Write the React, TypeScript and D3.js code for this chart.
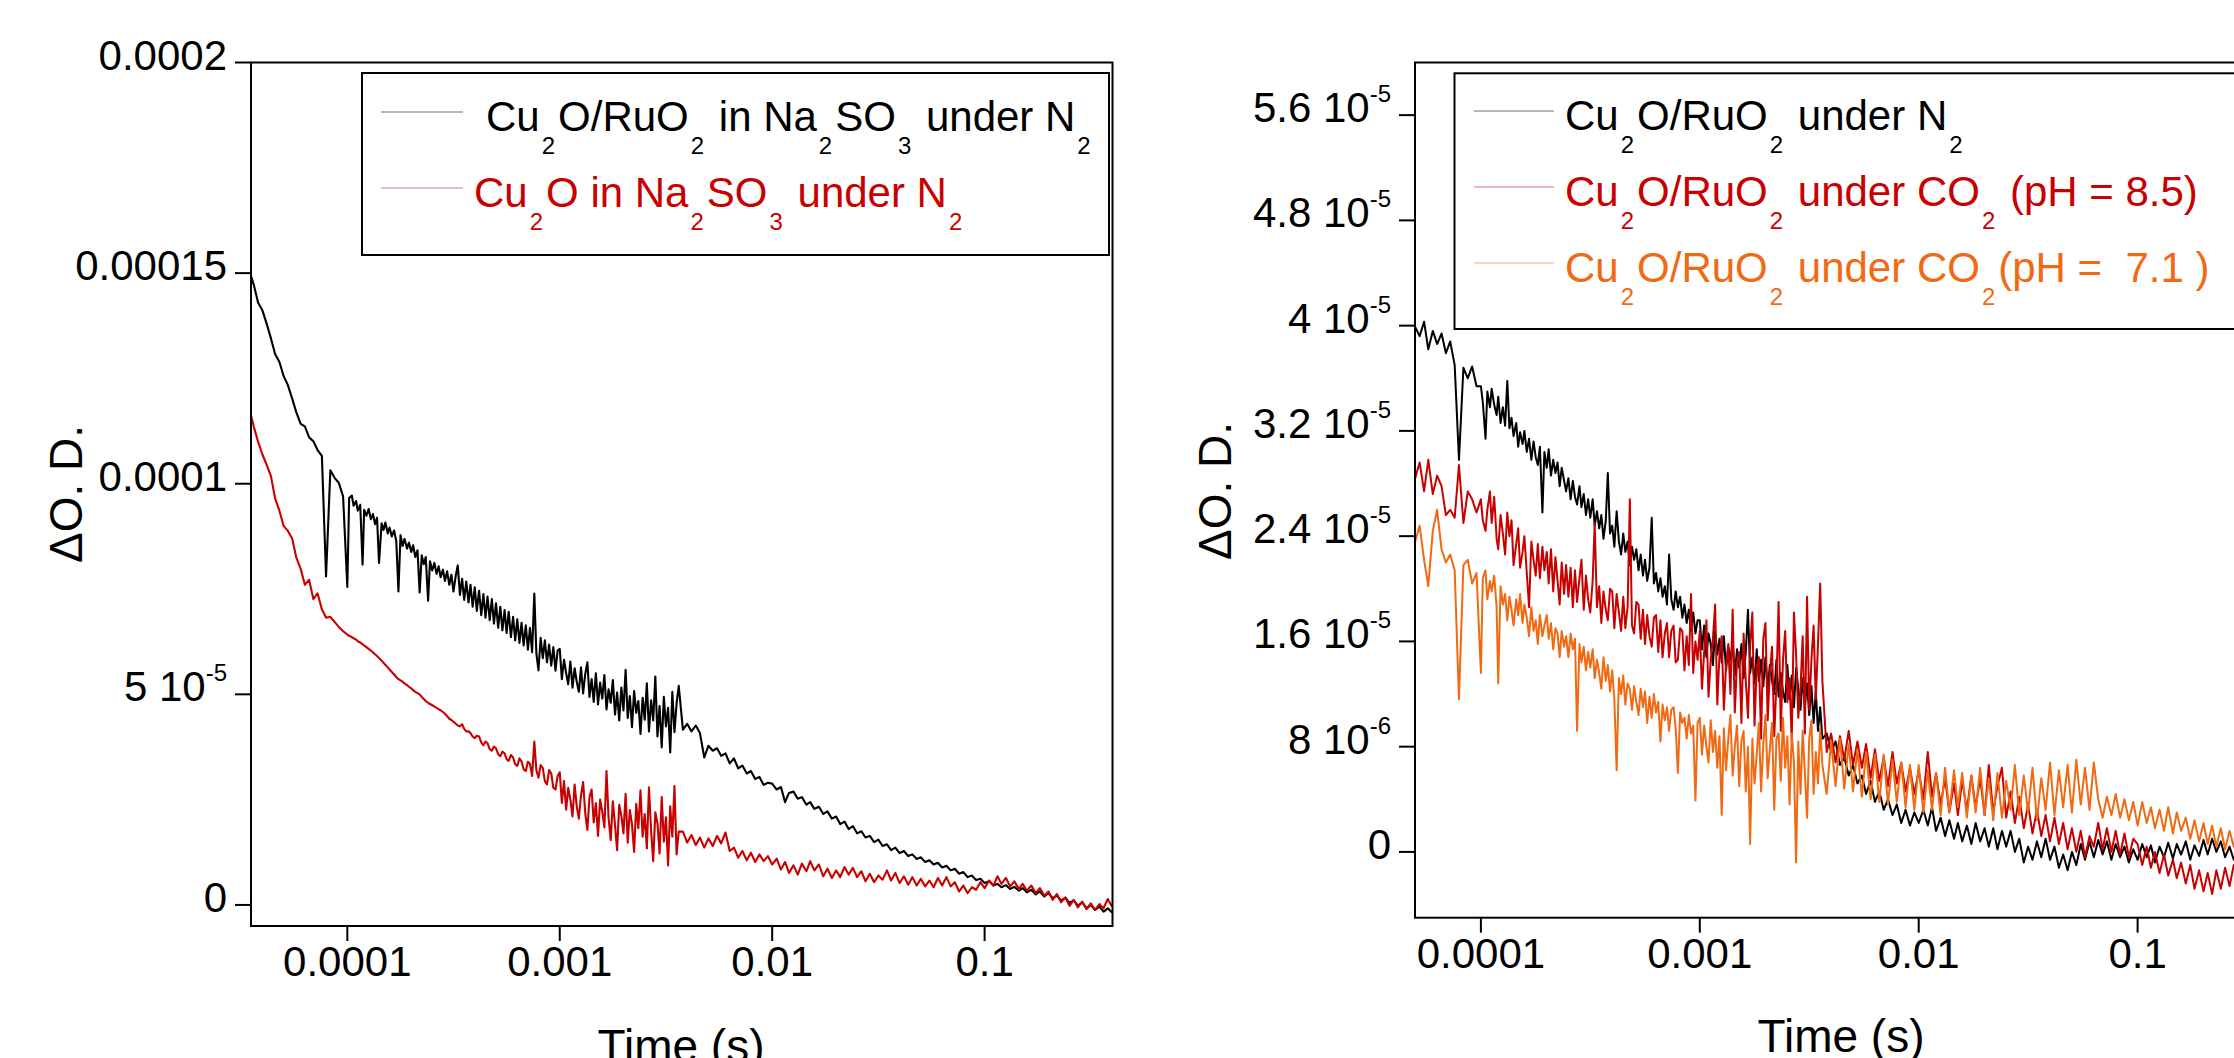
import React from 'react';
import * as d3 from 'd3';

const FONT = '"Liberation Sans", Arial, Helvetica, sans-serif';
const W = 2234;
const H = 1058;

const BLACK = '#000000';
const RED = '#c80000';
const ORANGE = '#f06a14';

// sampling times in microseconds, shared by both panels
// (denser between 0.1 and 3.6 ms where the traces are noisiest;
// the right panel starts at 50.1 us, i.e. index 8)
const timeUs = [
  // 35 - 100 us
  34.7, 36.3, 38.0, 39.8, 41.7, 43.7, 45.7, 47.9, 50.1, 52.5,
  55.0, 57.5, 60.3, 63.1, 66.1, 69.2, 72.4, 75.9, 79.4, 83.2,
  87.1, 91.2, 95.5,
  // 0.1 - 1 ms
  100, 102, 105, 107, 110, 112, 115, 118, 120, 123,
  126, 129, 132, 135, 138, 141, 145, 148, 151, 155,
  158, 162, 166, 170, 174, 178, 182, 186, 191, 195,
  200, 204, 209, 214, 219, 224, 229, 234, 240, 245,
  251, 257, 263, 269, 275, 282, 288, 295, 302, 309,
  316, 324, 331, 339, 347, 355, 363, 372, 380, 389,
  398, 407, 417, 427, 437, 447, 457, 468, 479, 490,
  501, 513, 525, 537, 550, 562, 575, 589, 603, 617,
  631, 646, 661, 676, 692, 708, 724, 741, 759, 776,
  794, 813, 832, 851, 871, 891, 912, 933, 955, 977,
  // 1 - 3.6 ms
  1000, 1023, 1047, 1072, 1096, 1122, 1148, 1175, 1202, 1230,
  1259, 1288, 1318, 1349, 1380, 1413, 1445, 1479, 1514, 1549,
  1585, 1622, 1660, 1698, 1738, 1778, 1820, 1862, 1905, 1950,
  1995, 2042, 2089, 2138, 2188, 2239, 2291, 2344, 2399, 2455,
  2512, 2570, 2630, 2692, 2754, 2818, 2884, 2951, 3020, 3090,
  3162, 3236, 3311, 3388, 3467, 3548, 3631,
  // 3.8 - 10 ms
  3800, 3980, 4170, 4370, 4570, 4790, 5010, 5250, 5500, 5750,
  6030, 6310, 6610, 6920, 7240, 7590, 7940, 8320, 8710, 9120,
  9550,
  // 10 - 100 ms
  10000, 10500, 11000, 11500, 12000, 12600, 13200, 13800, 14500, 15100,
  15800, 16600, 17400, 18200, 19100, 20000, 20900, 21900, 22900, 24000,
  25100, 26300, 27500, 28800, 30200, 31600, 33100, 34700, 36300, 38000,
  39800, 41700, 43700, 45700, 47900, 50100, 52500, 55000, 57500, 60300,
  63100, 66100, 69200, 72400, 75900, 79400, 83200, 87100, 91200, 95500,
  // 0.1 - 0.4 s
  100000, 105000, 110000, 115000, 120000, 126000, 132000, 138000, 145000, 151000,
  158000, 166000, 174000, 182000, 191000, 200000, 209000, 219000, 229000, 240000,
  251000, 263000, 275000, 288000, 302000, 316000, 331000, 347000, 363000, 380000,
  398000,
];
const RIGHT_OFFSET = 8;

// ΔO.D. in units of 1e-6, left panel (Na2SO3)
const leftBlack = [
  150.3, 147.2, 143.0, 141.2, 138.0, 134.5, 130.8, 128.9, 125.6, 123.4,
  120.2, 117.0, 114.2, 113.6, 111.0, 110.1, 108.0, 106.6, 78.0, 103.2,
  101.4, 100.2, 97.0,
  75.5, 96.6, 97.2, 94.8, 95.9, 93.6, 95.0, 80.8, 93.8, 92.4,
  94.0, 91.6, 92.8, 90.4, 91.9, 81.2, 90.6, 89.0, 90.8, 88.2,
  89.6, 87.5, 88.9, 86.4, 74.4, 87.8, 85.2, 86.9, 84.6, 86.0,
  83.8, 85.4, 82.6, 84.2, 74.2, 83.0, 80.9, 82.6, 72.2, 81.6,
  79.4, 81.2, 78.6, 80.4, 77.8, 79.6, 76.9, 79.2, 76.0, 78.4,
  74.4, 78.2, 80.6, 73.6, 77.4, 72.4, 76.8, 71.8, 76.0, 70.8,
  75.4, 69.8, 74.6, 68.8, 73.8, 68.2, 73.2, 67.6, 72.6, 66.8,
  71.6, 65.8, 70.8, 65.2, 70.0, 64.6, 69.6, 63.6, 68.4, 62.8,
  67.8, 62.2, 67.0, 61.6, 66.4, 60.6, 65.8, 60.0, 73.9, 59.8,
  55.7, 63.4, 58.6, 62.8, 57.6, 61.8, 56.8, 61.2, 55.6, 60.4,
  60.8, 53.6, 58.2, 55.0, 52.4, 57.8, 51.6, 56.2, 53.0, 50.6,
  56.4, 50.2, 54.8, 57.6, 49.4, 53.6, 48.2, 55.0, 47.6, 52.8,
  49.0, 54.6, 46.4, 51.2, 48.0, 53.4, 45.2, 50.4, 43.8, 51.6,
  46.2, 55.8, 44.4, 49.6, 42.2, 50.8, 45.6, 48.4, 40.6, 49.2,
  44.0, 52.6, 41.2, 48.6, 43.8, 54.2, 40.0, 47.2, 37.4, 49.4,
  42.4, 46.8, 36.2, 50.6, 41.0, 47.8, 52.0,
  41.6, 43.0, 41.2, 42.6, 40.8, 35.0, 37.8, 36.6, 37.2, 35.4,
  36.0, 33.6, 34.8, 32.4, 33.1, 31.2, 31.8, 29.9, 30.4, 28.5,
  29.0,
  28.8, 27.4, 28.0, 24.4, 26.6, 26.9, 25.2, 25.6, 23.8, 24.4,
  22.8, 23.3, 21.6, 22.2, 20.5, 21.0, 19.2, 19.8, 18.0, 18.7,
  17.0, 17.5, 16.0, 16.4, 14.9, 15.5, 14.0, 14.4, 13.0, 13.6,
  12.3, 12.8, 11.6, 12.0, 10.9, 11.3, 10.2, 10.6, 9.6, 10.0,
  8.9, 9.3, 8.2, 8.6, 7.4, 7.8, 6.6, 7.0, 5.9, 6.2,
  5.2, 5.6, 4.6, 5.0, 4.2, 4.7, 3.8, 4.3, 3.4, 4.0,
  3.0, 3.6, 2.5, 3.2, 2.0, 2.8, 1.6, 2.2, 1.0, 1.7,
  0.5, 1.1, -0.2, 0.6, -0.8, 0.0, -1.2, -0.4, -1.6, -0.8,
  -1.8,
];

const leftRed = [
  117.5, 113.5, 110.0, 107.0, 104.5, 101.8, 96.5, 93.6, 90.0, 88.8,
  87.0, 82.5, 79.8, 76.0, 77.2, 72.6, 74.0, 70.2, 68.2, 68.4,
  67.2, 66.0, 65.0,
  64.2, 63.9, 63.6, 63.3, 63.0, 62.6, 62.3, 61.9, 61.6, 61.2,
  60.8, 60.4, 60.0, 59.5, 59.1, 58.6, 58.0, 57.5, 57.0, 56.4,
  55.9, 55.3, 54.7, 54.1, 53.6, 53.3, 53.0, 52.6, 52.2, 51.8,
  51.4, 51.0, 50.6, 50.3, 50.0, 49.4, 48.9, 48.4, 48.0, 47.7,
  47.4, 47.1, 46.8, 46.5, 46.2, 45.8, 45.4, 44.8, 44.2, 43.9,
  43.5, 43.0, 42.6, 42.4, 42.9, 41.8, 41.2, 41.2, 40.8, 40.0,
  39.6, 40.2, 40.0, 38.6, 37.9, 38.8, 38.4, 37.0, 36.6, 37.6,
  37.2, 35.8, 35.3, 36.4, 36.0, 34.6, 34.2, 35.6, 35.0, 33.4,
  33.0, 34.8, 34.1, 32.2, 31.8, 34.0, 33.5, 30.6, 38.8, 32.0,
  30.2, 33.2, 32.5, 29.4, 28.6, 32.0, 31.2, 27.8, 27.4, 30.6,
  31.5, 24.2, 29.4, 22.6, 27.8, 25.0, 21.0, 28.6, 23.4, 20.5,
  26.0, 29.2, 21.8, 17.8, 25.6, 27.4, 19.6, 24.2, 16.4, 25.0,
  22.2, 18.4, 31.8, 20.6, 15.4, 24.6, 19.0, 13.0, 23.8, 21.2,
  17.0, 26.4, 14.8, 22.5, 19.2, 12.6, 24.0, 18.2, 27.2, 16.2,
  21.6, 13.4, 27.9, 17.6, 10.4, 22.0, 19.4, 12.2, 25.6, 15.0,
  20.8, 9.4, 23.4, 16.2, 28.2, 12.0, 17.4,
  17.4, 14.8, 16.6, 14.2, 16.0, 13.6, 15.8, 14.0, 16.4, 14.6,
  17.2, 12.8, 13.6, 11.2, 12.8, 10.6, 12.4, 10.2, 12.0, 10.4,
  11.6,
  9.6, 11.0, 8.4, 10.2, 7.6, 9.4, 7.2, 9.8, 8.0, 10.4,
  8.2, 9.6, 6.8, 8.6, 6.4, 8.2, 6.6, 9.0, 7.2, 8.8,
  6.6, 8.0, 5.6, 7.4, 5.4, 7.0, 6.0, 8.2, 5.8, 7.6,
  5.2, 6.8, 4.8, 6.6, 4.6, 6.2, 4.4, 5.8, 4.2, 6.4,
  4.6, 6.6, 4.4, 5.4, 3.2, 4.6, 2.8, 4.2, 3.6, 5.4,
  4.0, 5.8, 4.6, 6.8, 5.0, 6.4, 4.4, 5.6, 3.8, 5.0,
  3.4, 4.6, 2.8, 4.0, 2.2, 3.2, 1.2, 2.6, 0.6, 1.8,
  -0.2, 1.2, -0.6, 0.8, -1.0, 0.4, -1.2, 0.2, -0.8, 1.4,
  -0.4,
];

// ΔO.D. in units of 1e-6, right panel (N2 vs CO2), from 50.1 us
const rightBlack = [
  39.9, 39.2, 40.3, 38.2, 39.6, 38.6, 39.4, 37.9, 38.8, 37.0,
  29.8, 36.8, 36.0, 36.9, 35.4,
  35.4, 34.2, 31.4, 35.0, 33.8, 35.2, 34.0, 33.2, 34.6, 32.6,
  33.8, 32.4, 35.8, 32.2, 33.0, 31.6, 32.6, 30.8, 31.9, 31.0,
  32.0, 30.4, 31.4, 29.8, 31.2, 30.0, 29.4, 30.8, 25.8, 30.4,
  29.2, 30.6, 28.6, 29.8, 28.8, 29.6, 27.8, 29.2, 28.2, 27.4,
  28.4, 26.8, 28.2, 27.0, 26.4, 27.8, 26.2, 27.2, 25.6, 26.8,
  25.4, 26.8, 24.8, 25.9, 24.6, 25.6, 23.8, 25.2, 28.8, 24.2,
  24.8, 23.2, 25.9, 23.6, 22.6, 24.2, 22.8, 23.6, 21.8, 23.2,
  22.2, 23.0, 21.4, 22.6, 21.0, 22.2, 20.6, 21.6, 25.4, 20.4,
  21.2, 19.8, 20.8, 19.4, 20.2, 18.8, 22.6, 19.2, 18.4, 19.8,
  18.6, 19.4, 17.8, 18.8, 17.4, 18.4, 16.8, 18.2, 16.6, 17.6,
  17.6, 15.4, 17.2, 14.8, 16.6, 15.8, 14.2, 16.8, 15.0, 16.2,
  14.4, 16.4, 13.8, 15.6, 14.6, 16.0, 13.4, 15.4, 14.0, 15.8,
  13.2, 15.2, 18.4, 13.6, 14.8, 12.8, 15.4, 13.0, 14.6, 12.6,
  14.8, 12.4, 14.2, 13.0, 12.0, 14.6, 11.8, 13.6, 12.2, 11.4,
  14.2, 11.6, 13.4, 11.0, 14.0, 12.4, 10.8, 13.2, 11.2, 12.8,
  10.4, 12.6, 9.8, 12.2, 9.2, 11.0, 8.6,
  9.0, 7.6, 8.4, 6.6, 7.2, 5.8, 6.6, 5.2, 5.8, 4.4,
  5.4, 3.8, 4.6, 3.2, 4.0, 2.8, 3.6, 2.2, 3.2, 2.0,
  3.0,
  2.2, 3.2, 2.0, 3.4, 1.6, 2.6, 1.2, 2.4, 1.0, 2.2,
  0.8, 2.0, 0.6, 2.2, 0.8, 1.8, 0.4, 1.8, 0.2, 1.6,
  0.4, 1.6, 0.0, 1.0, -0.8, 0.4, -0.6, 0.8, -0.4, 1.0,
  -0.6, 0.4, -1.2, -0.2, -1.4, 0.0, -1.0, 0.6, -0.6, 0.8,
  -0.4, 0.9, -0.2, 0.8, -0.6, 0.6, -0.4, 0.4, -0.8, 0.2,
  -0.6, 0.6, -0.4, 0.5, -0.8, 0.4, -0.4, 0.7, -0.5, 0.6,
  -0.2, 0.8, -0.6, 0.5, -0.3, 0.9, -0.2, 1.0, 0.0, 0.8,
  -0.4, 0.4, -0.6, 0.2,
];

const rightRed = [
  28.4, 29.6, 27.4, 29.8, 27.2, 28.6, 27.8, 25.6, 26.0, 25.4,
  29.4, 25.0, 27.4, 26.8, 25.8,
  26.8, 25.2, 24.4, 26.0, 27.4, 25.0, 27.0, 23.8, 23.0, 25.6,
  24.2, 22.6, 25.8, 24.0, 25.2, 21.8, 23.4, 24.6, 21.6, 22.8,
  24.0, 21.2, 18.6, 23.6, 22.2, 21.0, 23.4, 20.8, 23.2, 21.4,
  22.8, 20.4, 23.0, 19.8, 22.4, 20.6, 18.8, 22.0, 19.6, 21.8,
  19.4, 21.6, 18.6, 21.4, 19.0, 20.8, 22.2, 18.4, 21.0, 19.2,
  18.2, 20.6, 25.0, 18.6, 20.2, 17.4, 19.8, 18.4, 17.6, 20.0,
  19.8, 17.0, 19.6, 18.2, 16.8, 19.4, 17.0, 18.6, 26.8, 17.2,
  16.6, 19.0, 18.8, 16.2, 18.4, 15.8, 18.0, 16.4, 15.6, 17.8,
  18.0, 15.2, 17.6, 14.8, 16.6, 17.4, 14.8, 16.8, 17.2, 14.4,
  14.6, 17.0, 16.8, 13.8, 16.4, 14.2, 19.6, 13.6, 16.0, 14.6,
  16.8, 12.4, 15.2, 17.6, 11.8, 14.6, 16.2, 18.8, 11.2, 15.0,
  16.4, 10.8, 14.2, 15.8, 12.0, 18.4, 10.6, 14.4, 15.2, 9.8,
  16.6, 13.0, 10.2, 15.6, 18.2, 9.6, 14.0, 14.8, 8.6, 16.2,
  17.4, 10.0, 13.6, 15.6, 8.8, 12.8, 19.0, 9.2, 14.6, 16.8,
  11.4, 13.2, 8.4, 18.2, 15.0, 10.2, 12.4, 16.4, 9.0, 19.4,
  10.8, 14.6, 17.2, 11.6, 15.8, 20.4, 13.0,
  7.6, 9.0, 6.8, 8.8, 7.0, 9.2, 6.6, 8.4, 6.4, 8.2,
  5.6, 7.8, 5.4, 7.2, 5.0, 7.6, 5.2, 6.8, 4.6, 6.4,
  4.4,
  6.2, 4.0, 7.6, 4.2, 6.0, 3.6, 5.6, 3.0, 5.2, 2.8,
  5.4, 3.2, 5.8, 3.4, 5.6, 2.8, 6.6, 3.0, 5.0, 6.4,
  2.6, 4.6, 2.2, 4.2, 1.8, 3.6, 1.4, 3.2, 1.2, 2.8,
  0.8, 2.6, 0.6, 2.2, 0.2, 1.8, 0.0, 1.6, -0.4, 1.2,
  0.4, 2.2, 0.2, 1.8, 0.0, 1.6, -0.2, 1.4, -0.4, 1.0,
  0.6, -1.0, 0.4, -1.2, 0.0, -1.6, -0.2, -1.8, -0.6, -2.0,
  -0.8, -2.4, -1.0, -2.8, -1.4, -3.0, -1.6, -3.2, -1.4, -2.8,
  -1.2, -2.6, -1.0, -2.2,
];

const rightOrange = [
  23.6, 24.8, 22.2, 20.2, 24.4, 26.0, 23.0, 22.0, 22.6, 21.4,
  11.6, 21.8, 22.2, 20.4, 21.2,
  13.6, 20.8, 21.4, 19.2, 20.6, 19.8, 21.0, 18.6, 12.8, 20.2,
  18.8, 19.6, 17.6, 19.4, 18.4, 17.2, 19.2, 18.0, 19.6, 17.4,
  18.8, 17.8, 16.4, 18.6, 16.8, 17.6, 15.8, 18.0, 16.4, 17.2,
  18.0, 16.2, 17.4, 15.4, 17.0, 16.6, 14.8, 16.8, 15.6, 16.4,
  14.8, 16.6, 15.4, 16.2, 9.2, 15.8, 14.4, 15.6, 13.8, 15.2,
  14.0, 15.4, 13.2, 14.6, 13.6, 12.4, 14.8, 13.0, 14.2, 12.2,
  13.8, 11.6, 6.2, 13.2, 12.0, 13.4, 11.2, 12.8, 12.4, 10.8,
  12.6, 11.4, 10.4, 12.4, 11.0, 12.2, 9.8, 11.8, 10.2, 12.0,
  10.6, 11.4, 8.4, 11.2, 10.0, 11.0, 9.2, 10.8, 11.0, 9.4,
  6.0, 10.6, 9.8, 10.2, 8.6, 10.4, 9.0, 9.6, 3.9, 9.8,
  10.2, 7.4, 9.6, 8.0, 6.8, 10.0, 7.6, 9.2, 6.4, 8.8,
  2.8, 9.4, 6.2, 8.6, 10.4, 5.8, 8.0, 9.6, 5.0, 8.4,
  9.2, 4.6, 8.0, 0.6, 8.6, 5.2, 7.4, 9.8, 4.6, 8.2,
  10.4, 5.6, 7.8, 9.8, 3.2, 8.6, 9.0, 5.4, 10.2, 6.4,
  8.8, 3.6, 9.0, 6.8, -0.8, 8.4, 4.4, 9.2, 6.0, 2.6,
  8.6, 10.0, 4.4, 7.6, 5.2, 9.4, 6.6,
  4.4, 8.4, 5.0, 8.6, 4.8, 8.2, 4.6, 7.8, 4.2, 7.6,
  4.0, 7.4, 3.8, 7.4, 3.6, 7.0, 3.8, 6.8, 3.4, 6.6,
  3.2,
  6.6, 3.0, 6.2, 3.2, 6.0, 2.8, 6.4, 3.0, 6.2, 3.4,
  6.0, 2.6, 5.8, 3.0, 6.4, 2.8, 5.6, 2.4, 6.0, 2.6,
  5.4, 3.2, 6.6, 2.8, 5.8, 3.0, 6.4, 2.4, 5.6, 3.2,
  6.8, 2.8, 6.2, 3.4, 6.6, 3.0, 7.0, 3.6, 6.4, 3.2,
  6.8, 4.0, 2.6, 4.2, 2.8, 4.4, 2.6, 4.0, 2.4, 3.8,
  2.0, 3.8, 2.2, 3.4, 1.8, 3.2, 1.6, 3.4, 1.4, 3.0,
  1.6, 2.6, 1.0, 2.4, 0.8, 2.2, 0.6, 2.0, 0.4, 1.8,
  0.2, 1.6, 0.4, 1.4,
];

const xTicks = [1e-4, 1e-3, 1e-2, 1e-1];
const xTickLabels = ['0.0001', '0.001', '0.01', '0.1'];

const leftYTicks = [2e-4, 1.5e-4, 1e-4, 5e-5, 0];
const leftYTickLabels = [['0.0002', ''], ['0.00015', ''], ['0.0001', ''], ['5 10', '-5'], ['0', '']];

const rightYTicks = [5.6e-5, 4.8e-5, 4e-5, 3.2e-5, 2.4e-5, 1.6e-5, 8e-6, 0];
const rightYTickLabels = [
  ['5.6 10', '-5'], ['4.8 10', '-5'], ['4 10', '-5'], ['3.2 10', '-5'],
  ['2.4 10', '-5'], ['1.6 10', '-5'], ['8 10', '-6'], ['0', ''],
];

// "_n" marks a subscript digit
const leftLegendLabels = ['Cu_2O/RuO_2 in Na_2SO_3 under N_2', 'Cu_2O in Na_2SO_3 under N_2'];
const rightLegendLabels = [
  'Cu_2O/RuO_2 under N_2',
  'Cu_2O/RuO_2 under CO_2 (pH = 8.5)',
  'Cu_2O/RuO_2 under CO_2(pH =  7.1 )',
];

const Y_TITLE = 'ΔO. D.';
const X_TITLE = 'Time (s)';

type Seg = { text: string; sub: boolean };

function parseRich(s: string): Seg[] {
  const out: Seg[] = [];
  const re = /_(\d)/g;
  let last = 0;
  let m: RegExpExecArray | null;
  while ((m = re.exec(s))) {
    if (m.index > last) out.push({ text: s.slice(last, m.index), sub: false });
    out.push({ text: m[1], sub: true });
    last = m.index + m[0].length;
  }
  if (last < s.length) out.push({ text: s.slice(last), sub: false });
  return out;
}

function RichText({ x, y, str, fill }: { x: number; y: number; str: string; fill: string }) {
  const segs = parseRich(str);
  let down = false;
  return (
    <text x={x} y={y} fill={fill} fontSize={42} style={{ whiteSpace: 'pre' }}>
      {segs.map((s, i) => {
        let dy = 0;
        let dx = 0;
        if (s.sub && !down) { dy = 23; dx = 2; down = true; }
        else if (!s.sub && down) { dy = -23; dx = 3; down = false; }
        return (
          <tspan key={i} dx={dx} dy={dy} fontSize={s.sub ? 24 : 42}>{s.text}</tspan>
        );
      })}
    </text>
  );
}

type Series = { values: number[]; color: string };

type PanelProps = {
  id: string;
  x0: number; x1: number; y0: number; y1: number;
  xDomain: [number, number];
  yDomain: [number, number];
  offset: number;
  series: Series[];
  yTicks: number[];
  yTickLabels: string[][];
  legendBox: { x: number; y: number; w: number; h: number };
  legendLineX: [number, number];
  legendTextX: number[];
  legendBaselines: number[];
  legendLabels: string[];
  yTitlePos: [number, number];
  xTitlePos: [number, number];
  strokeWidth: number;
};

function Panel(p: PanelProps) {
  const xs = d3.scaleLog().domain(p.xDomain).range([p.x0, p.x1]);
  const ys = d3.scaleLinear().domain(p.yDomain).range([p.y1, p.y0]);
  const line = d3.line<[number, number]>()
    .x(d => xs(d[0]))
    .y(d => ys(d[1]));

  const paths = p.series.map(s => {
    const n = Math.min(s.values.length, timeUs.length - p.offset);
    const pts: [number, number][] = [];
    for (let i = 0; i < n; i++) pts.push([timeUs[p.offset + i] * 1e-6, s.values[i] * 1e-6]);
    return line(pts) || '';
  });

  const clipId = 'clip-' + p.id;

  return (
    <g fontFamily={FONT}>
      <defs>
        <clipPath id={clipId}>
          <rect x={p.x0} y={p.y0} width={p.x1 - p.x0} height={p.y1 - p.y0} />
        </clipPath>
      </defs>

      <g clipPath={`url(#${clipId})`}>
        {paths.map((d, i) => (
          <path key={i} d={d} fill="none" stroke={p.series[i].color}
            strokeWidth={p.strokeWidth} strokeLinejoin="round" />
        ))}
      </g>

      {/* frame */}
      <rect x={p.x0} y={p.y0} width={p.x1 - p.x0} height={p.y1 - p.y0} fill="none" stroke="#000" strokeWidth={2} />

      {/* y axis */}
      {p.yTicks.map((v, i) => (
        <g key={'y' + i}>
          <line x1={p.x0 - 16} x2={p.x0} y1={ys(v)} y2={ys(v)} stroke="#000" strokeWidth={2} />
          <text x={p.x0 - 24} y={ys(v) + 7} textAnchor="end" fontSize={42} fill="#000">
            {p.yTickLabels[i][0]}
            {p.yTickLabels[i][1] && (
              <tspan dy={-20} fontSize={24}>{p.yTickLabels[i][1]}</tspan>
            )}
          </text>
        </g>
      ))}

      {/* x axis */}
      {xTicks.map((v, i) => (
        <g key={'x' + i}>
          <line x1={xs(v)} x2={xs(v)} y1={p.y1} y2={p.y1 + 15} stroke="#000" strokeWidth={2} />
          <text x={xs(v)} y={p.y1 + 50} textAnchor="middle" fontSize={42} fill="#000">
            {xTickLabels[i]}
          </text>
        </g>
      ))}

      {/* legend */}
      <rect x={p.legendBox.x} y={p.legendBox.y} width={p.legendBox.w} height={p.legendBox.h}
        fill="#fff" stroke="#000" strokeWidth={2} />
      {p.legendLabels.map((lab, i) => (
        <g key={'l' + i}>
          <line x1={p.legendLineX[0]} x2={p.legendLineX[1]}
            y1={p.legendBaselines[i] - 19} y2={p.legendBaselines[i] - 19}
            stroke={p.series[i].color} strokeWidth={1.2} strokeOpacity={0.55} />
          <RichText x={p.legendTextX[i]} y={p.legendBaselines[i]} str={lab} fill={p.series[i].color} />
        </g>
      ))}

      {/* titles */}
      <text transform={`translate(${p.yTitlePos[0]},${p.yTitlePos[1]}) rotate(-90)`}
        textAnchor="middle" fontSize={46} fill="#000">{Y_TITLE}</text>
      <text x={p.xTitlePos[0]} y={p.xTitlePos[1]} textAnchor="middle" fontSize={46} fill="#000">
        {X_TITLE}
      </text>
    </g>
  );
}

export default function App() {
  return (
    <svg width={W} height={H} viewBox={`0 0 ${W} ${H}`}
      style={{ position: 'absolute', left: 0, top: 0, display: 'block', background: '#fff' }}>
      <rect x={0} y={0} width={W} height={H} fill="#fff" />
      <Panel
        id="left"
        x0={251} x1={1112.5} y0={62.5} y1={926}
        xDomain={[3.52e-5, 0.4]}
        yDomain={[-5e-6, 2e-4]}
        offset={0}
        series={[{ values: leftBlack, color: BLACK }, { values: leftRed, color: RED }]}
        yTicks={leftYTicks}
        yTickLabels={leftYTickLabels}
        legendBox={{ x: 362, y: 73, w: 747, h: 182 }}
        legendLineX={[381, 463]}
        legendTextX={[486, 474]}
        legendBaselines={[131, 207]}
        legendLabels={leftLegendLabels}
        yTitlePos={[82, 494]}
        xTitlePos={[681, 1062]}
        strokeWidth={2.1}
      />
      <Panel
        id="right"
        x0={1415} x1={2269.4} y0={62.5} y1={917.7}
        xDomain={[5e-5, 0.4]}
        yDomain={[-5e-6, 6e-5]}
        offset={RIGHT_OFFSET}
        series={[
          { values: rightBlack, color: BLACK },
          { values: rightRed, color: RED },
          { values: rightOrange, color: ORANGE },
        ]}
        yTicks={rightYTicks}
        yTickLabels={rightYTickLabels}
        legendBox={{ x: 1454.5, y: 73.3, w: 820, h: 255.7 }}
        legendLineX={[1474, 1554]}
        legendTextX={[1565, 1565, 1565]}
        legendBaselines={[130, 206, 282]}
        legendLabels={rightLegendLabels}
        yTitlePos={[1231, 491]}
        xTitlePos={[1841, 1052]}
        strokeWidth={2.0}
      />
    </svg>
  );
}
